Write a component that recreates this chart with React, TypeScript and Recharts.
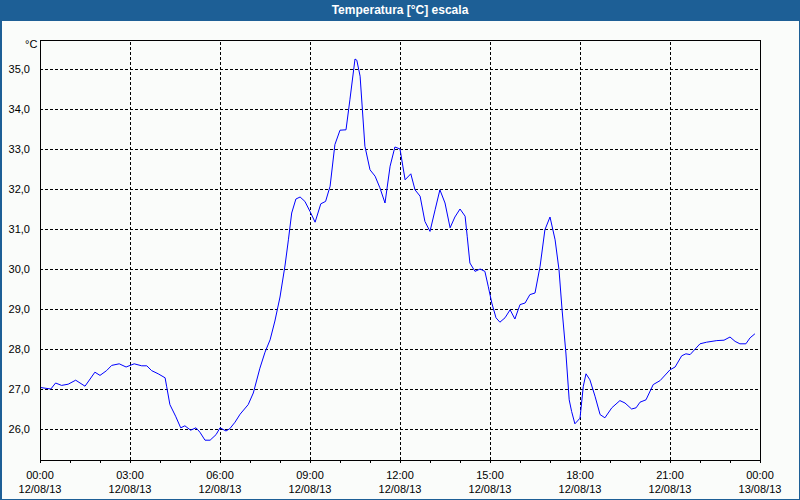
import {
  LineChart,
  Line,
  XAxis,
  YAxis,
  ReferenceLine,
  ReferenceArea,
} from "recharts";

// hour of day (0..24) and temperature in °C
const hours = [
  0, 0.17, 0.36, 0.52, 0.72, 0.94, 1.19, 1.5, 1.67, 1.83, 2.0, 2.22, 2.39, 2.64, 2.87,
  3.14, 3.39, 3.56, 3.72, 3.94, 4.17, 4.22, 4.33, 4.52, 4.69, 4.83, 5.02, 5.2, 5.33, 5.5,
  5.67, 5.87, 6.0, 6.2, 6.33, 6.5, 6.67, 6.94, 7.11, 7.33, 7.5, 7.67, 7.83, 8.0, 8.17,
  8.28, 8.39, 8.53, 8.67, 8.83, 9.0, 9.17, 9.36, 9.52, 9.67, 9.83, 10.0, 10.2, 10.33,
  10.5, 10.56, 10.67, 10.83, 11.0, 11.17, 11.33, 11.5, 11.67, 11.83, 12.0, 12.17, 12.36,
  12.5, 12.67, 12.83, 13.0, 13.17, 13.33, 13.5, 13.67, 13.83, 14.0, 14.17, 14.24, 14.33,
  14.5, 14.67, 14.83, 14.94, 15.06, 15.2, 15.33, 15.5, 15.67, 15.83, 16.0, 16.17, 16.33,
  16.5, 16.67, 16.83, 17.0, 17.17, 17.3, 17.4, 17.53, 17.64, 17.72, 17.83, 18.0, 18.11,
  18.2, 18.33, 18.5, 18.67, 18.83, 19.06, 19.33, 19.5, 19.72, 19.87, 20.0, 20.2, 20.44,
  20.67, 21.0, 21.17, 21.39, 21.53, 21.67, 22.0, 22.22, 22.56, 22.8, 23.0, 23.17, 23.33,
  23.53, 23.67, 23.83,
];

const temps = [
  27.04, 27.02, 27.0, 27.15, 27.09, 27.12, 27.22, 27.07, 27.25, 27.42, 27.34, 27.46, 27.59,
  27.63, 27.55, 27.63, 27.58, 27.58, 27.46, 27.38, 27.28, 27.07, 26.61, 26.32, 26.03, 26.08,
  25.97, 26.03, 25.92, 25.72, 25.72, 25.86, 26.03, 25.95, 26.01, 26.17, 26.37, 26.61, 26.9,
  27.52, 27.92, 28.23, 28.7, 29.3, 30.1, 30.73, 31.4, 31.75, 31.8, 31.69, 31.44, 31.17,
  31.63, 31.69, 32.07, 33.11, 33.47, 33.48, 34.23, 35.25, 35.22, 34.82, 33.07, 32.48, 32.32,
  32.03, 31.65, 32.57, 33.05, 33.0, 32.23, 32.38, 31.98, 31.82, 31.19, 30.94, 31.48, 31.98,
  31.65, 31.03, 31.3, 31.5, 31.32, 30.82, 30.15, 29.94, 30.0, 29.94, 29.57, 29.15, 28.78,
  28.67, 28.78, 28.98, 28.75, 29.11, 29.15, 29.36, 29.4, 30.07, 30.98, 31.3, 30.73, 29.98,
  29.0, 27.9, 26.73, 26.44, 26.13, 26.27, 27.07, 27.38, 27.23, 26.82, 26.36, 26.28, 26.53,
  26.71, 26.65, 26.5, 26.53, 26.67, 26.73, 27.11, 27.21, 27.48, 27.55, 27.83, 27.88, 27.86,
  28.13, 28.17, 28.21, 28.22, 28.3, 28.19, 28.13, 28.13, 28.28, 28.38,
];

const hourTicks = [
  0, 1, 2, 3, 4, 5, 6, 7, 8, 9, 10, 11, 12, 13, 14, 15, 16, 17, 18, 19, 20, 21, 22, 23, 24,
];
const gridHours = [3, 6, 9, 12, 15, 18, 21];
const tempTicks = [26, 27, 28, 29, 30, 31, 32, 33, 34, 35];
const yMin = 25.225;
const yMax = 35.725;

const data = hours.map((h, i) => ({ h, t: temps[i] }));

const font = "'Liberation Sans', Arial, sans-serif";

function TimeTick(props: any) {
  const { x, y, payload } = props;
  const v = payload.value;
  if (v % 3 !== 0) return null;
  const time = v === 24 ? "00:00" : `${String(v).padStart(2, "0")}:00`;
  const date = v === 24 ? "13/08/13" : "12/08/13";
  return (
    <g>
      <text x={x} y={y + 13.5} textAnchor="middle" fontSize={11} fill="#000" fontFamily={font}>
        {time}
      </text>
      <text x={x} y={y + 28} textAnchor="middle" fontSize={11} fill="#000" fontFamily={font}>
        {date}
      </text>
    </g>
  );
}

export default function App() {
  return (
    <div
      style={{
        position: "absolute",
        left: 0,
        top: 0,
        width: 800,
        height: 500,
        boxSizing: "border-box",
        borderLeft: "2px solid #1d5f96",
        borderRight: "1px solid #1d5f96",
        borderBottom: "1px solid #1d5f96",
        background: "#fafcfa",
        fontFamily: font,
      }}
    >
      <div
        style={{
          position: "absolute",
          left: -2,
          top: 0,
          width: 800,
          height: 21,
          background: "#1d5f96",
          color: "#fff",
          fontWeight: "bold",
          fontSize: 12,
          lineHeight: "21px",
          textAlign: "center",
        }}
      >
        Temperatura [°C] escala
      </div>
      <div style={{ position: "absolute", left: 23, top: 38, fontSize: 11, color: "#000" }}>
        °C
      </div>
      <div style={{ position: "absolute", left: -2, top: 0 }}>
        <LineChart
          width={800}
          height={500}
          data={data}
          margin={{ top: 40, right: 40, bottom: 0, left: 0 }}
        >
          <XAxis
            dataKey="h"
            type="number"
            domain={[0, 24]}
            ticks={hourTicks}
            interval={0}
            height={40}
            tickSize={3}
            tickMargin={2}
            axisLine={{ stroke: "#000", shapeRendering: "crispEdges" }}
            tickLine={{ stroke: "#000", shapeRendering: "crispEdges" }}
            tick={<TimeTick />}
          />
          <YAxis
            type="number"
            domain={[yMin, yMax]}
            ticks={tempTicks}
            width={40}
            allowDataOverflow
            tickLine={false}
            axisLine={{ stroke: "#000", shapeRendering: "crispEdges" }}
            tickMargin={4}
            tick={{ fontSize: 11, fill: "#000", fontFamily: font }}
            tickFormatter={(v: number) => v.toFixed(1).replace(".", ",")}
          />
          {gridHours.map((g) => (
            <ReferenceLine
              key={`v${g}`}
              x={g}
              stroke="#000"
              strokeDasharray="3 2"
              shapeRendering="crispEdges"
            />
          ))}
          {tempTicks.map((t) => (
            <ReferenceLine
              key={`h${t}`}
              y={t}
              stroke="#000"
              strokeDasharray="3 2"
              shapeRendering="crispEdges"
            />
          ))}
          <ReferenceArea
            x1={0}
            x2={24}
            y1={yMin}
            y2={yMax}
            stroke="#000"
            fill="none"
            fillOpacity={0}
            shapeRendering="crispEdges"
          />
          <Line
            dataKey="t"
            type="linear"
            stroke="#0000ff"
            strokeWidth={1}
            dot={false}
            isAnimationActive={false}
          />
        </LineChart>
      </div>
    </div>
  );
}
